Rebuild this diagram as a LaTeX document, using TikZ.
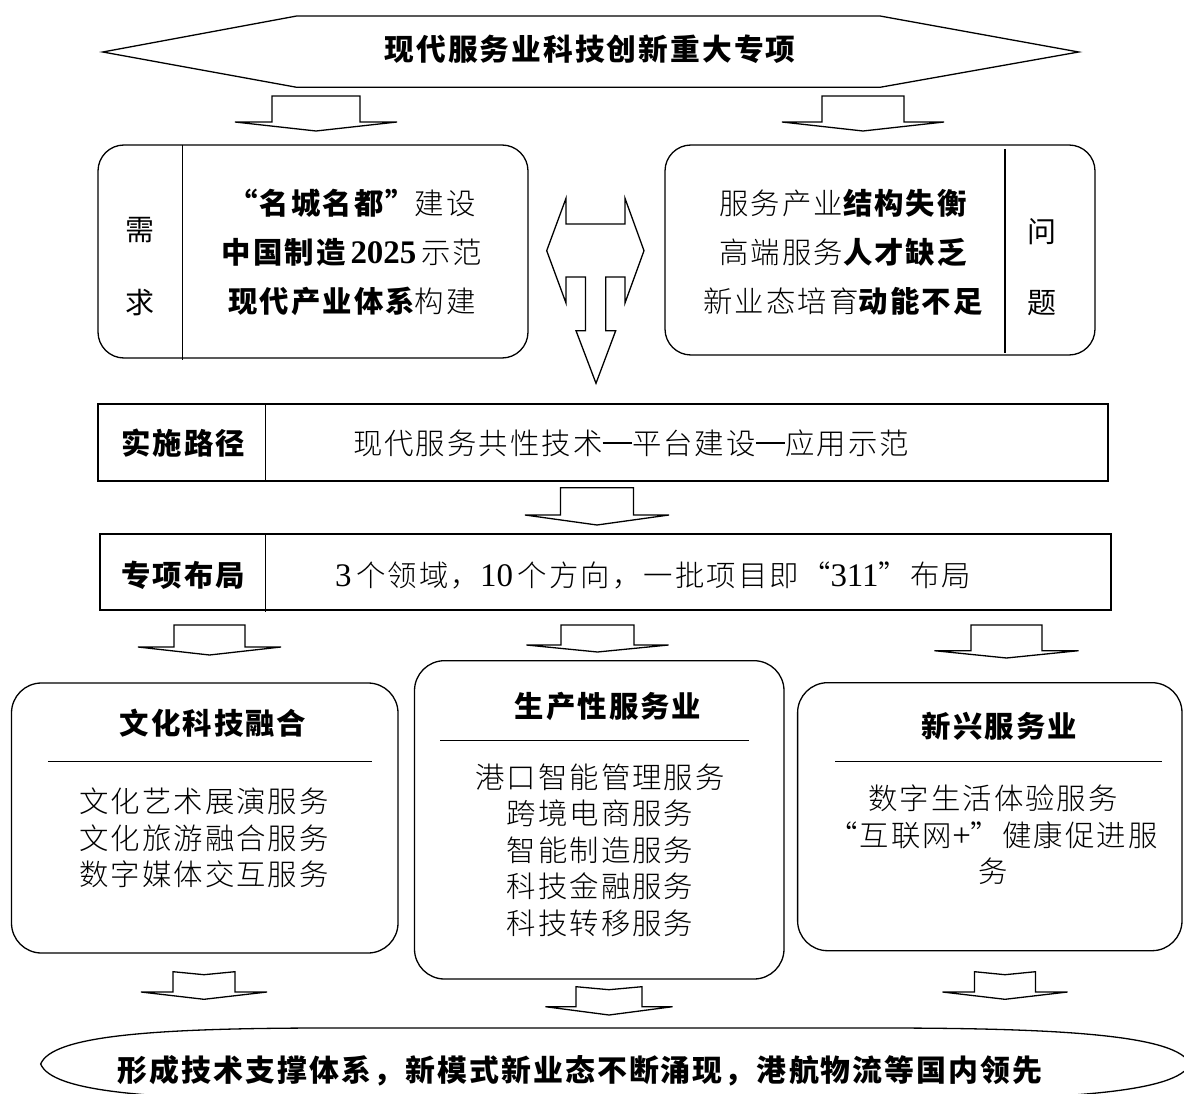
\documentclass[tikz,border=0pt]{standalone}
\usepackage{fontspec}
\setmainfont{Noto Sans CJK SC}
\newfontfamily\cjk[LetterSpace=7]{Noto Sans CJK SC}
\IfFontExistsTF{Noto Sans CJK SC Light}
  {\newfontfamily\cjkl[LetterSpace=7]{Noto Sans CJK SC Light}}
  {\newfontfamily\cjkl[LetterSpace=7]{Noto Sans CJK SC}}
\newfontfamily\tnr[Scale=1.12]{Liberation Serif}
\newcommand{\B}[1]{{\cjk\bfseries #1}}
\newcommand{\emd}{\rule[0.36em]{1em}{0.045em}}
\newcommand{\dnarrow}[7]{% cx, ytop, stem half, wing half, ywing, ytip, notch
  \draw[shapeline] (#1-#3,#2) -- (#1,#2+#7) -- (#1+#3,#2) -- (#1+#3,#5) -- (#1+#4,#5)
    -- (#1,#6) -- (#1-#4,#5) -- (#1-#3,#5) -- cycle;}
\tikzset{
  shapeline/.style={draw, line width=1.3pt, line join=miter},
  rbox/.style={draw, line width=1.3pt, rounded corners=26pt, inner sep=0pt},
  sbox/.style={draw, line width=1.5pt, inner sep=0pt},
  txt/.style={inner sep=0pt, align=center, font=\cjkl\fontsize{29.4}{36.5}\selectfont},
  lab/.style={inner sep=0pt, font=\cjk\fontsize{29}{30}\selectfont},
  bigtxt/.style={inner sep=0pt, align=center, font=\cjkl\fontsize{29.4}{49}\selectfont},
  head/.style={inner sep=0pt, font=\cjk\bfseries\fontsize{29.4}{30}\selectfont},
  sep/.style={line width=1.3pt}
}
\begin{document}
\begin{tikzpicture}[x=1pt,y=-1pt]
\useasboundingbox (0,0) rectangle (1184,1094);
\fill[white] (0,0) rectangle (1184,1094);
\clip (0,0) rectangle (1184,1094);

% top banner
\draw[shapeline] (102.8,52) -- (296.7,16) -- (880,16) -- (1078.7,52) -- (880,87.3) -- (296.7,87.3) -- cycle;
\node[head, font=\cjk\bfseries\fontsize{29.7}{30}\selectfont] (title) at (590,49) {现代服务业科技创新重大专项};

% top arrows
\dnarrow{316}{96}{44}{81}{122}{131}{0}
\dnarrow{863}{96}{41}{81}{122}{131}{0}

% need box
\node[rbox, minimum width=430pt, minimum height=213pt] (need) at (313,251.5) {};
\draw[sep] (182.7,145) -- (182.7,360);
\node[lab] (need1) at (140,230) {需};
\node[lab] (need2) at (140,303) {求};
\node[bigtxt] (needtext) at (352,252) {\B{“名城名都”}建设\\ \B{中国制造\,{\tnr\bfseries 2025}\,}示范\\ \B{现代产业体系}构建};

% problem box
\node[rbox, minimum width=430pt, minimum height=210pt] (prob) at (880,250) {};
\draw[sep] (1005,149) -- (1005,353);
\node[lab] (prob1) at (1042,232) {问};
\node[lab] (prob2) at (1042,303) {题};
\node[bigtxt] (probtext) at (843,252) {服务产业\B{结构失衡}\\ 高端服务\B{人才缺乏}\\ 新业态培育\B{动能不足}};

% middle double arrow
\draw[shapeline] (546.7,250.7) -- (566,198.3) -- (566,224) -- (625,224) -- (625,198.3) -- (644,250.7)
  -- (625,303) -- (625,277) -- (605.7,277) -- (605.7,330.7) -- (615.7,330.7) -- (596,383.3)
  -- (576,330.7) -- (585.5,330.7) -- (585.5,277) -- (566,277) -- (566,303) -- cycle;

% path box
\node[sbox, minimum width=1010pt, minimum height=77pt] (path) at (603,442.5) {};
\draw[sep] (265.7,404) -- (265.7,482);
\node[head] (pathlab) at (183,443) {实施路径};
\node[txt] (pathtext) at (631,443) {现代服务共性技术\emd 平台建设\emd 应用示范};

\dnarrow{597}{487.7}{36.5}{72}{515}{525}{0}

% layout box
\node[sbox, minimum width=1011pt, minimum height=76pt] (layout) at (605.5,572) {};
\draw[sep] (265.7,534) -- (265.7,611.7);
\node[head] (laylab) at (183,575) {专项布局};
\node[txt] (laytext) at (653,575) {{\tnr 3}\,个领域，{\tnr 10}\,个方向，一批项目即“{\tnr 311}”布局};

% third row arrows
\dnarrow{209.5}{625}{35.5}{71.5}{647}{655}{0}
\dnarrow{597.5}{625}{36.5}{71}{645}{652}{0}
\dnarrow{1006.5}{625}{35.5}{72}{650.7}{658}{0}

% culture box
\node[rbox, rounded corners=30pt, minimum width=386.5pt, minimum height=270pt] (cul) at (204.75,818) {};
\node[head] (cultitle) at (213,723) {文化科技融合};
\draw[sep] (47.8,761.7) -- (372,761.7);
\node[txt] (culitems) at (204,838) {文化艺术展演服务\\文化旅游融合服务\\数字媒体交互服务};

% production box
\node[rbox, rounded corners=30pt, minimum width=369.5pt, minimum height=318.3pt] (prod) at (599.25,819.85) {};
\node[head] (prodtitle) at (608,706.7) {生产性服务业};
\draw[sep] (440,740.7) -- (749,740.7);
\node[txt] (proditems) at (600,850) {港口智能管理服务\\跨境电商服务\\智能制造服务\\科技金融服务\\科技转移服务};

% emerging box
\node[rbox, rounded corners=30pt, minimum width=384.4pt, minimum height=268pt] (new) at (989.8,816.7) {};
\node[head] (newtitle) at (999.5,726.7) {新兴服务业};
\draw[sep] (835,761.7) -- (1162,761.7);
\node[txt] (newitems) at (993,835) {数字生活体验服务\\“互联网{\tnr +}”健康促进服\\务};

% bottom arrows
\dnarrow{204}{971.7}{31}{63}{992}{999.3}{3}
\dnarrow{609}{986.7}{33}{63.5}{1006.7}{1015}{3}
\dnarrow{1005}{971.7}{30.5}{62.5}{992}{999.3}{3}

% bottom oval
\draw[shapeline] (40.7,1064) .. controls (52,1036) and (150,1028) .. (330,1028) -- (880,1028)
  .. controls (1070,1028) and (1178,1036) .. (1190,1064)
  .. controls (1178,1092) and (1070,1100) .. (880,1100) -- (330,1100)
  .. controls (150,1100) and (52,1092) .. (40.7,1064) -- cycle;
\node[head, font=\cjk\bfseries\fontsize{29.9}{32}\selectfont] (result) at (580,1071) {形成技术支撑体系，新模式新业态不断涌现，港航物流等国内领先};
\end{tikzpicture}
\end{document}
